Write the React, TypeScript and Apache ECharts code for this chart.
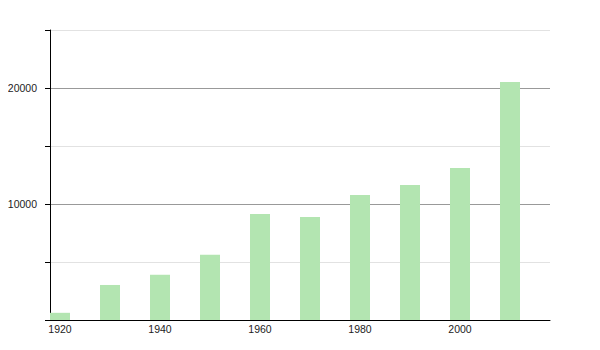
import React, { useEffect, useRef } from "react";
import * as echarts from "echarts";

const years = [1920, 1930, 1940, 1950, 1960, 1970, 1980, 1990, 2000, 2010];
const population = [620, 3020, 3900, 5630, 9140, 8880, 10780, 11640, 13100, 20520];
const xLabelYears = [1920, 1940, 1960, 1980, 2000];
const yLabelValues = [10000, 20000];

export default function App() {
  const ref = useRef<HTMLDivElement>(null);
  useEffect(() => {
    if (!ref.current) return;
    const chart = echarts.init(ref.current, null, { renderer: "svg" });
    chart.setOption({
      animation: false,
      grid: { left: 50, top: 30, right: 50, bottom: 30, containLabel: false },
      xAxis: {
        type: "value",
        min: 1918,
        max: 2018,
        interval: 2,
        axisLine: { show: true, lineStyle: { color: "#000", width: 1 } },
        axisTick: { show: false },
        splitLine: { show: false },
        axisLabel: {
          margin: 3,
          fontFamily: "Liberation Sans",
          fontSize: 10.5,
          color: "#222",
          showMinLabel: false,
          showMaxLabel: false,
          formatter: (v: number) => (xLabelYears.includes(v) ? String(v) : ""),
        },
      },
      yAxis: {
        type: "value",
        min: 0,
        max: 25000,
        interval: 5000,
        axisLine: { show: true, lineStyle: { color: "#000", width: 1 } },
        axisTick: { show: true, length: 5, lineStyle: { color: "#000" } },
        splitLine: { show: true, lineStyle: { color: ["#999", "#e2e2e2"], width: 1 } },
        axisLabel: {
          margin: 13,
          fontFamily: "Liberation Sans",
          fontSize: 10.5,
          color: "#222",
          formatter: (v: number) => (yLabelValues.includes(v) ? String(v) : ""),
        },
      },
      series: [
        {
          type: "bar",
          barWidth: 20,
          itemStyle: { color: "#b3e5b1" },
          data: years.map((y, i) => [y, population[i]]),
        },
      ],
    });
    return () => chart.dispose();
  }, []);
  return <div ref={ref} style={{ width: 600, height: 350, margin: -8 }} />;
}
